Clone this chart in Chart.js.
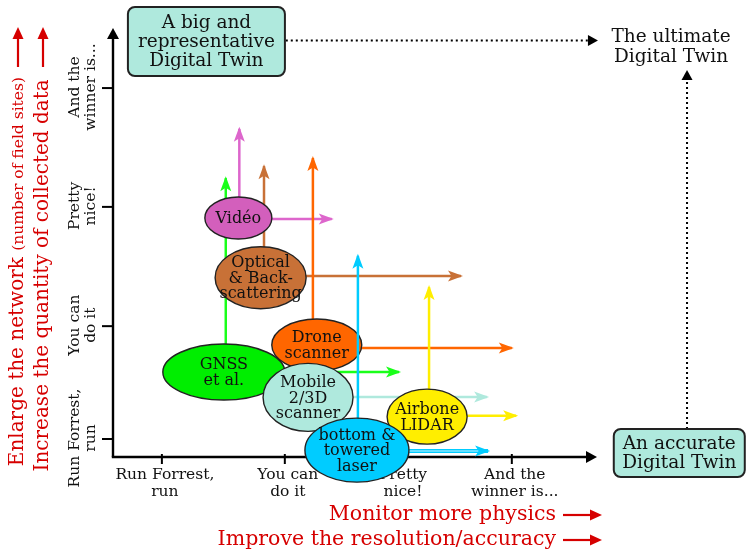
<!DOCTYPE html>
<html>
<head>
<meta charset="utf-8">
<script src="https://cdn.jsdelivr.net/npm/chart.js@4/dist/chart.umd.min.js"></script>
<style>
html,body{margin:0;padding:0;background:#fff;}
#wrap{width:749px;height:550px;}
</style>
</head>
<body>
<div id="wrap"><canvas id="c" width="749" height="550"></canvas></div>
<script>
// ---- data (drawing order: back to front) ----
const techniques = ['GNSS et al.', 'Optical & Back-scattering', 'Vidéo', 'Drone scanner', 'Mobile 2/3D scanner', 'Airbone LIDAR', 'bottom & towered laser'];
const techniqueLines = [['GNSS', 'et al.'], ['Optical', '& Back-', 'scattering'], ['Vidéo'], ['Drone', 'scanner'], ['Mobile', '2/3D', 'scanner'], ['Airbone', 'LIDAR'], ['bottom &', 'towered', 'laser']];
const centerX = [22.9, 30.5, 25.9, 42.1, 40.3, 64.9, 50.4];
const centerY = [19.8, 41.8, 55.7, 26.1, 13.9, 9.4, 1.6];
const upArrowX = [23.3, 31.2, 26.1, 41.3, null, 65.3, 50.6];
const upArrowTop = [65.0, 67.8, 76.5, 69.7, null, 39.6, 46.9];
const rightArrowY = [19.8, 42.2, 55.5, 25.4, 14.0, 9.6, 1.4];
const rightArrowEnd = [59.1, 71.9, 45.2, 82.4, 77.3, 83.3, 77.5];

const xTickValues = [10.1, 35.5, 59.3, 82.4];
const xTickLabels = [['Run Forrest,', 'run'], ['You can', 'do it'], ['Pretty', 'nice!'], ['And the', 'winner is...']];
const yTickValues = [4.2, 30.5, 58.3, 86.0];
const yTickLabels = [['Run Forrest,', 'run'], ['You can', 'do it'], ['Pretty', 'nice!'], ['And the', 'winner is...']];

const xTitles = ['Monitor more physics', 'Improve the resolution/accuracy'];
const yTitleMain = ['Enlarge the network ', 'Increase the quantity of collected data '];
const yTitleSmall = ['(number of field sites)', ''];

const topBoxLines = ['A big and', 'representative', 'Digital Twin'];
const ultimateLines = ['The ultimate', 'Digital Twin'];
const accurateBoxLines = ['An accurate', 'Digital Twin'];

// ---- styles ----
const fillColors = ['#00ee00', '#c87137', '#d35fbc', '#ff6600', '#afe9dd', '#ffee00', '#00ccff'];
const arrowColors = ['#1aff1a', '#c87137', '#dd66cc', '#ff6600', '#afe9dd', '#ffee00', '#00ccff'];
const ellipseRadii = [[61, 28], [45.5, 31], [33.5, 21], [45, 26], [45, 34], [40, 27.5], [52, 32]];
const RED = '#d60000';
const TEAL = '#afe9dd';
const SERIF = '"DejaVu Serif", "Liberation Serif", serif';

// annotation anchors (data units of the axes)
const anchors = {
  topBox: {x: 19.3, y: 96.85, w: 157, h: 69},
  accurateBox: {x: 117.0, y: 0.93, w: 131, h: 48},
  ultimate: {x: 115.3, y: 95.6},
  hDotted: {x0: 35.7, x1: 100.2, y: 97.1},
  vDotted: {x: 118.6, y0: 6.5, y1: 90.2}
};

function arrowHead(ctx, x, y, angle, len, hw, notch, color) {
  ctx.save();
  ctx.translate(x, y);
  ctx.rotate(angle);
  ctx.beginPath();
  ctx.moveTo(0, 0);
  ctx.lineTo(-len, -hw);
  ctx.lineTo(-len + notch, 0);
  ctx.lineTo(-len, hw);
  ctx.closePath();
  ctx.fillStyle = color;
  ctx.fill();
  ctx.restore();
}

function roundRect(ctx, x, y, w, h, r) {
  ctx.beginPath();
  ctx.moveTo(x + r, y);
  ctx.lineTo(x + w - r, y);
  ctx.arcTo(x + w, y, x + w, y + r, r);
  ctx.lineTo(x + w, y + h - r);
  ctx.arcTo(x + w, y + h, x + w - r, y + h, r);
  ctx.lineTo(x + r, y + h);
  ctx.arcTo(x, y + h, x, y + h - r, r);
  ctx.lineTo(x, y + r);
  ctx.arcTo(x, y, x + r, y, r);
  ctx.closePath();
}

function multiline(ctx, lines, cx, cy, lh) {
  const n = lines.length;
  lines.forEach((t, j) => ctx.fillText(t, cx, cy + (j - (n - 1) / 2) * lh));
}

// ---- datasets ----
const datasets = [];
const drawSeq = [];
techniques.forEach((name, i) => {
  if (upArrowTop[i] !== null) {
    drawSeq.push({
      label: name + ' (up)', kind: 'arrow',
      data: [{x: upArrowX[i], y: centerY[i]}, {x: upArrowX[i], y: upArrowTop[i]}],
      showLine: true, borderColor: arrowColors[i], backgroundColor: arrowColors[i],
      borderWidth: 2.5, pointRadius: 0, clip: false, headColor: arrowColors[i]
    });
  }
  drawSeq.push({
    label: name + ' (right)', kind: 'arrow', doubleLine: i === 6,
    data: [{x: centerX[i], y: rightArrowY[i]}, {x: rightArrowEnd[i], y: rightArrowY[i]}],
    showLine: true, borderColor: arrowColors[i], backgroundColor: arrowColors[i],
    borderWidth: i === 6 ? 4 : 2.5, pointRadius: 0, clip: false, headColor: arrowColors[i]
  });
  drawSeq.push({
    label: name, kind: 'ellipse', idx: i,
    data: [{x: centerX[i], y: centerY[i]}],
    showLine: false, pointRadius: 0, clip: false,
    backgroundColor: fillColors[i], borderColor: '#333'
  });
});
const N = drawSeq.length;
drawSeq.forEach((d, k) => { d.order = N - k; datasets.push(d); });

const diagramPlugin = {
  id: 'diagram',
  beforeDatasetsDraw(chart) {
    const {ctx, scales: {x, y}} = chart;
    const X = v => x.getPixelForValue(v), Y = v => y.getPixelForValue(v);
    ctx.save();
    // axes
    ctx.strokeStyle = '#000';
    ctx.lineWidth = 2.4;
    ctx.beginPath(); ctx.moveTo(X(0) - 1.2, Y(0)); ctx.lineTo(X(100) - 8, Y(0)); ctx.stroke();
    ctx.beginPath(); ctx.moveTo(X(0), Y(0)); ctx.lineTo(X(0), Y(100) + 8); ctx.stroke();
    arrowHead(ctx, X(100), Y(0), 0, 11, 6, 0, '#000');
    arrowHead(ctx, X(0), Y(100), -Math.PI / 2, 11, 6, 0, '#000');
    ctx.lineWidth = 2;
    xTickValues.forEach(v => { ctx.beginPath(); ctx.moveTo(X(v), Y(0) - 3); ctx.lineTo(X(v), Y(0) + 7); ctx.stroke(); });
    yTickValues.forEach(v => { ctx.beginPath(); ctx.moveTo(X(0) - 11, Y(v)); ctx.lineTo(X(0), Y(v)); ctx.stroke(); });

    // tick labels
    ctx.fillStyle = '#111';
    ctx.font = '15.5px ' + SERIF;
    ctx.textAlign = 'center';
    ctx.textBaseline = 'middle';
    xTickValues.forEach((v, i) => xTickLabels[i].forEach((t, j) => ctx.fillText(t, X(v) + 3, Y(0) + 18 + j * 17)));
    yTickValues.forEach((v, i) => {
      ctx.save();
      ctx.translate(X(0) - 38, Y(v) - 1);
      ctx.rotate(-Math.PI / 2);
      yTickLabels[i].forEach((t, j) => ctx.fillText(t, 0, j * 15.5));
      ctx.restore();
    });

    // red axis titles (bottom)
    ctx.fillStyle = RED;
    ctx.strokeStyle = RED;
    ctx.font = '20.5px ' + SERIF;
    ctx.textAlign = 'right';
    xTitles.forEach((t, i) => {
      const ty = 515 + i * 25;
      ctx.fillText(t, 556, ty);
      ctx.lineWidth = 2.2;
      ctx.beginPath(); ctx.moveTo(563, ty); ctx.lineTo(592, ty); ctx.stroke();
      arrowHead(ctx, 602, ty, 0, 12, 5.5, 0, RED);
    });
    // red axis titles (left, rotated)
    yTitleMain.forEach((t, i) => {
      const tx = 18 + i * 25;
      const endY = i === 0 ? 77 : 73;
      ctx.save();
      ctx.translate(tx, endY);
      ctx.rotate(-Math.PI / 2);
      ctx.textAlign = 'right';
      ctx.textBaseline = 'middle';
      let off = 0;
      if (yTitleSmall[i]) {
        ctx.font = '15.5px ' + SERIF;
        ctx.fillText(yTitleSmall[i], 0, 1);
        off = ctx.measureText(yTitleSmall[i]).width;
      }
      ctx.font = '20px ' + SERIF;
      ctx.fillText(t, -off, 0);
      ctx.restore();
      ctx.lineWidth = 2.2;
      ctx.beginPath(); ctx.moveTo(tx, 67); ctx.lineTo(tx, 37); ctx.stroke();
      arrowHead(ctx, tx, 27, -Math.PI / 2, 12, 5.5, 0, RED);
    });

    // boxes and dotted arrows
    const a = anchors;
    ctx.strokeStyle = '#000';
    ctx.lineWidth = 2;
    ctx.setLineDash([2, 3]);
    ctx.beginPath(); ctx.moveTo(X(a.hDotted.x0), Y(a.hDotted.y)); ctx.lineTo(X(a.hDotted.x1) - 9, Y(a.hDotted.y)); ctx.stroke();
    ctx.beginPath(); ctx.moveTo(X(a.vDotted.x), Y(a.vDotted.y0)); ctx.lineTo(X(a.vDotted.x), Y(a.vDotted.y1) + 9); ctx.stroke();
    ctx.setLineDash([]);
    arrowHead(ctx, X(a.hDotted.x1), Y(a.hDotted.y), 0, 10, 5.5, 0, '#000');
    arrowHead(ctx, X(a.vDotted.x), Y(a.vDotted.y1), -Math.PI / 2, 10, 5.5, 0, '#000');

    [[a.topBox, topBoxLines], [a.accurateBox, accurateBoxLines]].forEach(([b, lines]) => {
      const cx = X(b.x), cy = Y(b.y);
      roundRect(ctx, cx - b.w / 2, cy - b.h / 2, b.w, b.h, 7);
      ctx.fillStyle = TEAL;
      ctx.fill();
      ctx.strokeStyle = '#222';
      ctx.lineWidth = 2;
      ctx.stroke();
      ctx.fillStyle = '#111';
      ctx.font = '18.5px ' + SERIF;
      ctx.textAlign = 'center';
      ctx.textBaseline = 'middle';
      multiline(ctx, lines, cx, cy + 1, 19);
    });
    ctx.fillStyle = '#111';
    ctx.font = '18.5px ' + SERIF;
    ctx.textAlign = 'center';
    ctx.textBaseline = 'middle';
    multiline(ctx, ultimateLines, X(a.ultimate.x), Y(a.ultimate.y), 20);
    ctx.restore();
  },
  afterDatasetDraw(chart, args) {
    const ds = chart.data.datasets[args.index];
    const ctx = chart.ctx;
    const pts = args.meta.data;
    ctx.save();
    if (ds.kind === 'arrow') {
      const p0 = pts[0], p1 = pts[1];
      const ang = Math.atan2(p1.y - p0.y, p1.x - p0.x);
      if (ds.doubleLine) {
        ctx.strokeStyle = '#ccf3ff';
        ctx.lineWidth = 1.2;
        ctx.beginPath(); ctx.moveTo(p0.x, p0.y); ctx.lineTo(p1.x - 8, p1.y); ctx.stroke();
      }
      arrowHead(ctx, p1.x + 2 * Math.cos(ang), p1.y + 2 * Math.sin(ang), ang, 15, 5.5, 3.5, ds.headColor);
    } else if (ds.kind === 'ellipse') {
      const p = pts[0];
      const [rx, ry] = ellipseRadii[ds.idx];
      ctx.beginPath();
      ctx.ellipse(p.x, p.y, rx, ry, 0, 0, Math.PI * 2);
      ctx.fillStyle = ds.backgroundColor;
      ctx.fill();
      ctx.strokeStyle = '#222';
      ctx.lineWidth = 1.4;
      ctx.stroke();
      ctx.fillStyle = '#111';
      ctx.font = '16px ' + SERIF;
      ctx.textAlign = 'center';
      ctx.textBaseline = 'middle';
      multiline(ctx, techniqueLines[ds.idx], p.x, p.y + 1, 15.5);
    }
    ctx.restore();
  }
};

new Chart(document.getElementById('c').getContext('2d'), {
  type: 'scatter',
  data: {datasets},
  options: {
    responsive: false,
    animation: false,
    events: [],
    layout: {padding: {left: 113, right: 152, top: 28, bottom: 93}},
    scales: {
      x: {type: 'linear', min: 0, max: 100, display: false},
      y: {type: 'linear', min: 0, max: 100, display: false}
    },
    plugins: {legend: {display: false}, tooltip: {enabled: false}, title: {display: false}}
  },
  plugins: [diagramPlugin]
});
</script>
</body>
</html>
